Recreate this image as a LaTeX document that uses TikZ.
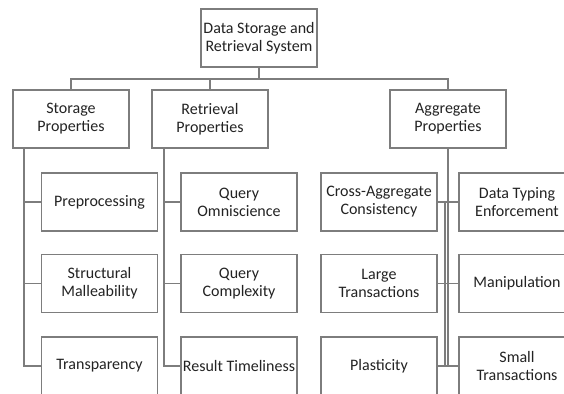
\documentclass[tikz,border=0pt]{standalone}
\usepackage{fontspec}
\setmainfont{Carlito}
\definecolor{linegray}{RGB}{125,125,125}
\definecolor{textgray}{RGB}{35,35,35}
\begin{document}
\begin{tikzpicture}[x=1pt,y=-1pt,
  box/.style={draw=linegray, line width=1.3pt, fill=white, minimum width=116pt, minimum height=58pt,
    inner sep=0pt, align=center, text=textgray, font=\fontsize{16}{18}\selectfont},
  conn/.style={draw=linegray, line width=1.3pt}]
\useasboundingbox (0,0) rectangle (564,393);
\clip (0,0) rectangle (564,393);
\fill[white] (0,0) rectangle (564,393);
% nodes
\node[box] (root) at (259,38) {Data Storage and\\Retrieval System};
\node[box] (storage) at (71,119) {Storage\\Properties};
\node[box] (retrieval) at (210,119) {Retrieval\\Properties};
\node[box] (aggregate) at (448,119) {Aggregate\\Properties};
% column A
\node[box] (a1) at (99.5,202) {Preprocessing};
\node[box] (a2) at (99.5,283.5) {Structural\\Malleability};
\node[box] (a3) at (99.5,366) {Transparency};
% column B
\node[box] (b1) at (239,202) {Query\\Omniscience};
\node[box] (b2) at (239,283.5) {Query\\Complexity};
\node[box] (b3) at (239,366) {Result Timeliness};
% column C
\node[box] (c1) at (379,202) {Cross-Aggregate\\Consistency};
\node[box] (c2) at (379,283.5) {Large\\Transactions};
\node[box] (c3) at (379,366) {Plasticity};
% column D
\node[box] (d1) at (517,202) {Data Typing\\Enforcement};
\node[box] (d2) at (517,283.5) {Manipulation};
\node[box] (d3) at (517,366) {Small\\Transactions};
% spine coordinates
\coordinate (bus) at (259,79);
\coordinate (sA) at (24,148);
\coordinate (sB) at (164,148);
\coordinate (sC2) at (445,202);
% top-level connectors
\draw[conn] (root.south) -- (bus);
\draw[conn] (storage.north) |- (bus) -| (aggregate.north);
\draw[conn] (retrieval.north) -- (retrieval.north |- bus);
% storage children
\draw[conn] (sA) |- (a3.west);
\draw[conn] (sA |- a1.west) -- (a1.west);
\draw[conn] (sA |- a2.west) -- (a2.west);
% retrieval children
\draw[conn] (sB) |- (b3.west);
\draw[conn] (sB |- b1.west) -- (b1.west);
\draw[conn] (sB |- b2.west) -- (b2.west);
% aggregate children
\draw[conn] (aggregate.south) -- (aggregate.south |- c3.east);
\draw[conn] (sC2) -- (sC2 |- c3.east);
\draw[conn] (c1.east) -- (d1.west);
\draw[conn] (c2.east) -- (d2.west);
\draw[conn] (c3.east) -- (d3.west);
\end{tikzpicture}
\end{document}
